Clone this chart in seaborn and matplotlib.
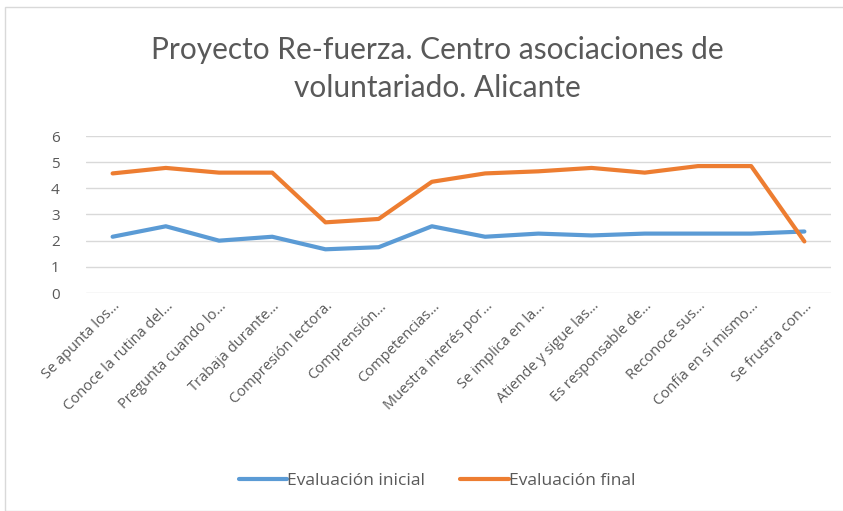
import matplotlib
matplotlib.use("Agg")
import matplotlib.pyplot as plt
from matplotlib.patches import Rectangle
import seaborn as sns
import pandas as pd

categorias = [
    "Se apunta los…",
    "Conoce la rutina del…",
    "Pregunta cuando lo…",
    "Trabaja durante…",
    "Compresión lectora.",
    "Comprensión…",
    "Competencias…",
    "Muestra interés por…",
    "Se implica en la…",
    "Atiende y sigue las…",
    "Es responsable de…",
    "Reconoce sus…",
    "Confía en sí mismo…",
    "Se frustra con…",
]
evaluacion_inicial = [2.15, 2.55, 2.0, 2.15, 1.67, 1.75, 2.55, 2.15, 2.27, 2.2, 2.27, 2.27, 2.27, 2.35]
evaluacion_final = [4.57, 4.78, 4.6, 4.6, 2.7, 2.83, 4.25, 4.57, 4.65, 4.78, 4.6, 4.85, 4.85, 1.97]
series = ["Evaluación inicial", "Evaluación final"]
colores = ["#5B9BD5", "#ED7D31"]
y_ticks = [0, 1, 2, 3, 4, 5, 6]

df = pd.DataFrame({
    "categoria": categorias * 2,
    "valor": evaluacion_inicial + evaluacion_final,
    "serie": [series[0]] * len(categorias) + [series[1]] * len(categorias),
})

sns.set_theme(style="white")
plt.rcParams["font.family"] = ["Open Sans", "DejaVu Sans"]

fig = plt.figure(figsize=(8.43, 5.11), dpi=100)
W, H = 843, 511
ax = fig.add_axes([86 / W, 1 - 293 / H, (831 - 86) / W, (293 - 136) / H])

# chart frame
fig.patches.append(Rectangle((5 / W, 0), 1, 1 - 7 / H, transform=fig.transFigure,
                             fill=False, edgecolor="#d9d9d9", linewidth=1.0))

sns.lineplot(data=df, x="categoria", y="valor", hue="serie", palette=colores,
             linewidth=3, ax=ax, sort=False, legend=True)

ax.set_ylim(0, 6)
ax.set_xlim(-0.5, len(categorias) - 0.5)
ax.set_yticks(y_ticks)
ax.grid(axis="y", color="#d9d9d9", linewidth=1)
ax.grid(axis="x", visible=False)
for s in ax.spines.values():
    s.set_visible(False)
ax.set_xlabel("")
ax.set_ylabel("")
ax.tick_params(axis="y", length=0, pad=22, labelsize=11, labelcolor="#595959")
ax.tick_params(axis="x", length=0, pad=4, labelsize=10.5, labelcolor="#595959")
ax.set_xticks(range(len(categorias)))
ax.set_xticklabels(categorias, rotation=45, ha="right", rotation_mode="anchor")
for lbl in ax.get_yticklabels():
    lbl.set_horizontalalignment("center")

handles, labels = ax.get_legend_handles_labels()
ax.get_legend().remove()
fig.legend(handles, labels, loc="center", bbox_to_anchor=(437 / W, 1 - 481 / H),
           ncol=2, frameon=False, fontsize=12.5, handlelength=2.8, handletextpad=0.0,
           columnspacing=2.0, labelcolor="#595959")

fig.text(437 / W, 1 - 50 / H, "Proyecto Re-fuerza. Centro asociaciones de",
         ha="center", va="center", fontsize=21.5, color="#595959", family=["Lato", "DejaVu Sans"])
fig.text(437 / W, 1 - 88 / H, "voluntariado. Alicante",
         ha="center", va="center", fontsize=21.5, color="#595959", family=["Lato", "DejaVu Sans"])

fig.savefig("out.png", dpi=100, facecolor="white")
